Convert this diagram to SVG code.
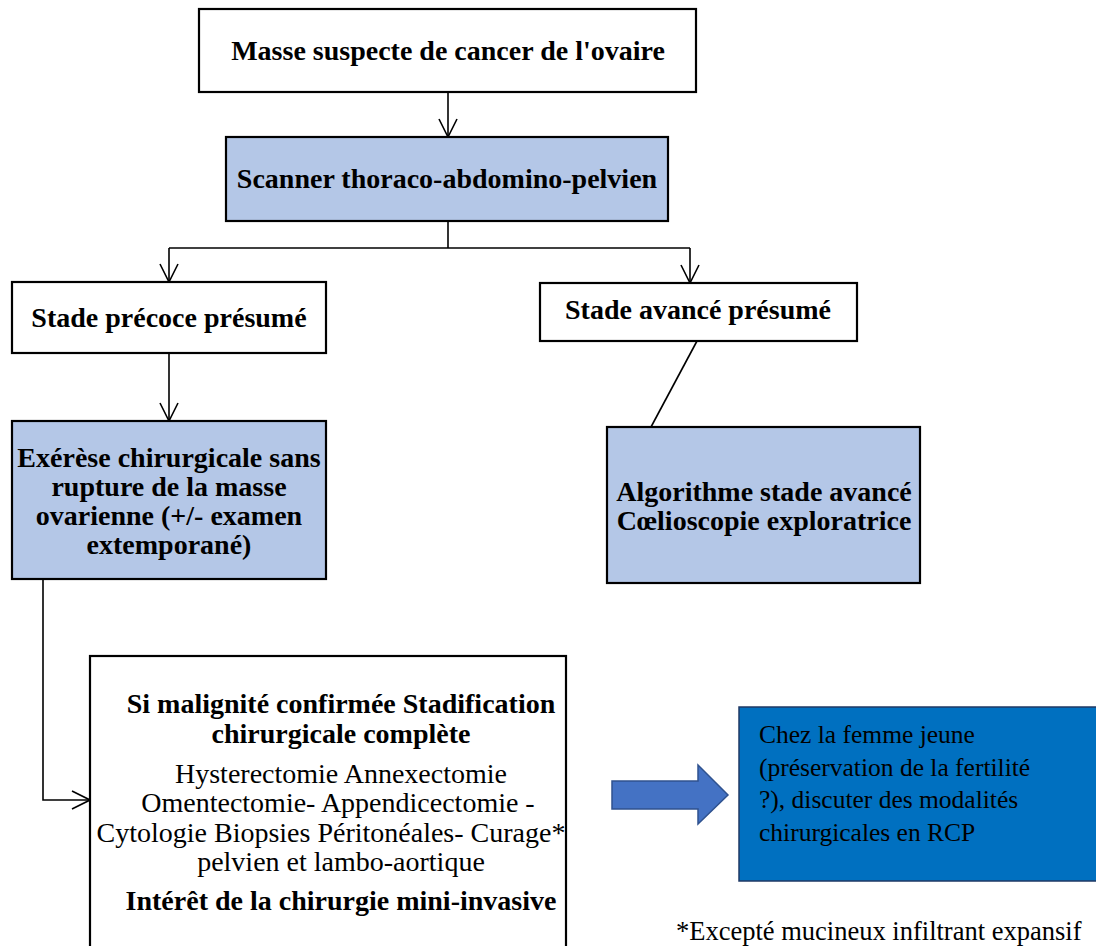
<svg xmlns="http://www.w3.org/2000/svg" width="1096" height="946" viewBox="0 0 1096 946" font-family="Liberation Serif, Times New Roman, serif">
  <defs>
    <marker id="openHead" viewBox="0 0 20 20" refX="19" refY="10" markerWidth="20" markerHeight="20" markerUnits="userSpaceOnUse" orient="auto">
      <path d="M1,1 L19,10 L1,19" fill="none" stroke="#000" stroke-width="1.6"/>
    </marker>
  </defs>
  <style>
    .box { fill: #ffffff; stroke: #000; stroke-width: 2.2; }
    .fill { fill: #b4c7e7; stroke: #000; stroke-width: 2.2; }
    .conn { fill: none; stroke: #000; stroke-width: 1.6; }
    .b { font-weight: bold; font-size: 28px; fill: #000; text-anchor: middle; }
    .r { font-size: 28px; fill: #000; text-anchor: middle; }
    .l { font-size: 25.5px; fill: #000; }
    .fn { font-size: 26.5px; fill: #000; }
  </style>

  <rect width="1096" height="946" fill="#ffffff"/>

  <g id="connectors">
    <line class="conn" x1="448" y1="92" x2="448" y2="137" marker-end="url(#openHead)"/>
    <polyline class="conn" points="448,221 448,248"/>
    <polyline class="conn" points="169,248 690,248"/>
    <line class="conn" x1="169" y1="248" x2="169" y2="282" marker-end="url(#openHead)"/>
    <line class="conn" x1="690" y1="248" x2="690" y2="283" marker-end="url(#openHead)"/>
    <line class="conn" x1="169" y1="353" x2="169" y2="421" marker-end="url(#openHead)"/>
    <line class="conn" x1="697" y1="341" x2="651" y2="427"/>
    <polyline class="conn" points="43,579 43,800 90,800" marker-end="url(#openHead)"/>
  </g>

  <g id="node-masse">
    <rect class="box" x="199" y="9" width="497" height="83"/>
    <text class="b" x="448" y="60">Masse suspecte de cancer de l'ovaire</text>
  </g>

  <g id="node-scanner">
    <rect class="fill" x="226" y="137" width="442" height="84"/>
    <text class="b" x="447" y="188">Scanner thoraco-abdomino-pelvien</text>
  </g>

  <g id="node-precoce">
    <rect class="box" x="12" y="282" width="314" height="71"/>
    <text class="b" x="169" y="327">Stade précoce présumé</text>
  </g>

  <g id="node-avance">
    <rect class="box" x="540" y="283" width="317" height="58"/>
    <text class="b" x="698" y="319">Stade avancé présumé</text>
  </g>

  <g id="node-exerese">
    <rect class="fill" x="12" y="421" width="314" height="158"/>
    <text class="b" x="169" y="467">Exérèse chirurgicale sans</text>
    <text class="b" x="169" y="496">rupture de la masse</text>
    <text class="b" x="169" y="525">ovarienne (+/- examen</text>
    <text class="b" x="169" y="554">extemporané)</text>
  </g>

  <g id="node-algorithme">
    <rect class="fill" x="607" y="427" width="313" height="156"/>
    <text class="b" x="764" y="501">Algorithme stade avancé</text>
    <text class="b" x="764" y="530">Cœlioscopie exploratrice</text>
  </g>

  <g id="node-stadification">
    <rect class="box" x="90" y="656" width="476" height="310"/>
    <text class="b" x="341" y="713">Si malignité confirmée Stadification</text>
    <text class="b" x="341" y="743">chirurgicale complète</text>
    <text class="r" x="341" y="783">Hysterectomie Annexectomie</text>
    <text class="r" x="338" y="812">Omentectomie- Appendicectomie -</text>
    <text class="r" x="331" y="842">Cytologie Biopsies Péritonéales- Curage*</text>
    <text class="r" x="341" y="871">pelvien et lambo-aortique</text>
    <text class="b" x="341" y="910">Intérêt de la chirurgie mini-invasive</text>
  </g>

  <g id="block-arrow">
    <path d="M612,781 L698,781 L698,765 L728,795 L698,824 L698,809 L612,809 Z" fill="#4472c4" stroke="#2f528f" stroke-width="1.5"/>
  </g>

  <g id="node-femme-jeune">
    <rect x="739" y="707" width="362" height="174" fill="#0070c0" stroke="#1f3864" stroke-width="1.5"/>
    <text class="l" x="759" y="743">Chez la femme jeune</text>
    <text class="l" x="759" y="776">(préservation de la fertilité</text>
    <text class="l" x="759" y="808">?), discuter des modalités</text>
    <text class="l" x="759" y="841">chirurgicales en RCP</text>
  </g>

  <g id="footnote">
    <text class="fn" x="676" y="940">*Excepté mucineux infiltrant expansif</text>
  </g>
</svg>
